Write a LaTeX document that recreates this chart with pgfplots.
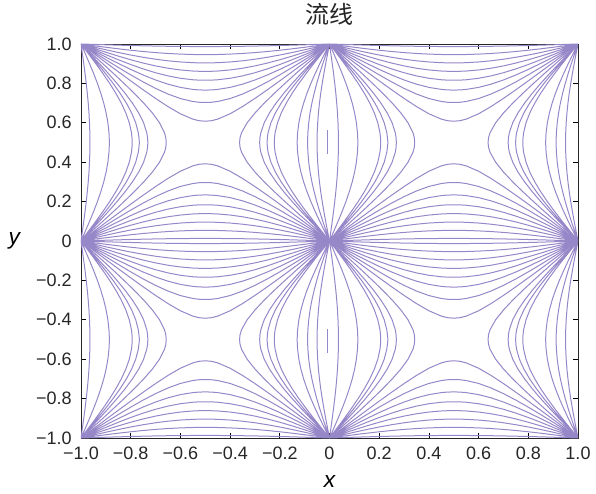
\documentclass[border=0pt]{standalone}
\usepackage{pgfplots}
\pgfplotsset{compat=1.18}
\usepackage{pgfplotstable}
\usepackage{fontspec}
\setmainfont{Liberation Sans}
\newfontfamily\cjk{Noto Sans CJK SC}
\definecolor{sl}{RGB}{150,135,200}
\pgfplotsset{sline/.style={color=sl, solid, line width=0.75pt, mark=none}}

% horizontal family: offset h from the cell edge, as a function of t across the cell
\pgfplotstableread[row sep=\\]{
t h\\
0 0\\ 0.025 0.0236\\ 0.05 0.0471\\ 0.1 0.0941\\ 0.15 0.1408\\ 0.2 0.1870\\ 0.25 0.2323\\ 0.3 0.2762\\ 0.35 0.3176\\ 0.4 0.3542\\ 0.45 0.3814\\ 0.475 0.3893\\ 0.5 0.392\\ 0.525 0.3893\\ 0.55 0.3814\\ 0.6 0.3542\\ 0.65 0.3176\\ 0.7 0.2762\\ 0.75 0.2323\\ 0.8 0.1870\\ 0.85 0.1408\\ 0.9 0.0941\\ 0.95 0.0471\\ 0.975 0.0236\\ 1 0\\ nan nan\\
0 0\\ 0.025 0.0201\\ 0.05 0.0401\\ 0.1 0.0799\\ 0.15 0.1189\\ 0.2 0.1566\\ 0.25 0.1924\\ 0.3 0.2253\\ 0.35 0.2540\\ 0.4 0.2769\\ 0.45 0.2918\\ 0.475 0.2957\\ 0.5 0.297\\ 0.525 0.2957\\ 0.55 0.2918\\ 0.6 0.2769\\ 0.65 0.2540\\ 0.7 0.2253\\ 0.75 0.1924\\ 0.8 0.1566\\ 0.85 0.1189\\ 0.9 0.0799\\ 0.95 0.0401\\ 0.975 0.0201\\ 1 0\\ nan nan\\
0 0\\ 0.025 0.0168\\ 0.05 0.0335\\ 0.1 0.0665\\ 0.15 0.0985\\ 0.2 0.1290\\ 0.25 0.1573\\ 0.3 0.1826\\ 0.35 0.2039\\ 0.4 0.2202\\ 0.45 0.2305\\ 0.475 0.2331\\ 0.5 0.234\\ 0.525 0.2331\\ 0.55 0.2305\\ 0.6 0.2202\\ 0.65 0.2039\\ 0.7 0.1826\\ 0.75 0.1573\\ 0.8 0.1290\\ 0.85 0.0985\\ 0.9 0.0665\\ 0.95 0.0335\\ 0.975 0.0168\\ 1 0\\ nan nan\\
0 0\\ 0.025 0.0137\\ 0.05 0.0272\\ 0.1 0.0540\\ 0.15 0.0798\\ 0.2 0.1041\\ 0.25 0.1263\\ 0.3 0.1458\\ 0.35 0.1619\\ 0.4 0.1740\\ 0.45 0.1815\\ 0.475 0.1834\\ 0.5 0.184\\ 0.525 0.1834\\ 0.55 0.1815\\ 0.6 0.1740\\ 0.65 0.1619\\ 0.7 0.1458\\ 0.75 0.1263\\ 0.8 0.1041\\ 0.85 0.0798\\ 0.9 0.0540\\ 0.95 0.0272\\ 0.975 0.0137\\ 1 0\\ nan nan\\
0 0\\ 0.025 0.0106\\ 0.05 0.0211\\ 0.1 0.0417\\ 0.15 0.0615\\ 0.2 0.0800\\ 0.25 0.0967\\ 0.3 0.1112\\ 0.35 0.1230\\ 0.4 0.1318\\ 0.45 0.1372\\ 0.475 0.1385\\ 0.5 0.139\\ 0.525 0.1385\\ 0.55 0.1372\\ 0.6 0.1318\\ 0.65 0.1230\\ 0.7 0.1112\\ 0.75 0.0967\\ 0.8 0.0800\\ 0.85 0.0615\\ 0.9 0.0417\\ 0.95 0.0211\\ 0.975 0.0106\\ 1 0\\ nan nan\\
0 0\\ 0.025 0.0074\\ 0.05 0.0148\\ 0.1 0.0293\\ 0.15 0.0431\\ 0.2 0.0559\\ 0.25 0.0674\\ 0.3 0.0773\\ 0.35 0.0853\\ 0.4 0.0912\\ 0.45 0.0948\\ 0.475 0.0957\\ 0.5 0.096\\ 0.525 0.0957\\ 0.55 0.0948\\ 0.6 0.0912\\ 0.65 0.0853\\ 0.7 0.0773\\ 0.75 0.0674\\ 0.8 0.0559\\ 0.85 0.0431\\ 0.9 0.0293\\ 0.95 0.0148\\ 0.975 0.0074\\ 1 0\\ nan nan\\
0 0\\ 0.025 0.0042\\ 0.05 0.0084\\ 0.1 0.0166\\ 0.15 0.0244\\ 0.2 0.0316\\ 0.25 0.0381\\ 0.3 0.0436\\ 0.35 0.0481\\ 0.4 0.0513\\ 0.45 0.0533\\ 0.475 0.0538\\ 0.5 0.054\\ 0.525 0.0538\\ 0.55 0.0533\\ 0.6 0.0513\\ 0.65 0.0481\\ 0.7 0.0436\\ 0.75 0.0381\\ 0.8 0.0316\\ 0.85 0.0244\\ 0.9 0.0166\\ 0.95 0.0084\\ 0.975 0.0042\\ 1 0\\ nan nan\\
0 0\\ 0.05 0.0020\\ 0.1 0.0040\\ 0.15 0.0059\\ 0.2 0.0076\\ 0.25 0.0092\\ 0.3 0.0105\\ 0.35 0.0116\\ 0.4 0.0124\\ 0.45 0.0128\\ 0.5 0.013\\ 0.55 0.0128\\ 0.6 0.0124\\ 0.65 0.0116\\ 0.7 0.0105\\ 0.75 0.0092\\ 0.8 0.0076\\ 0.85 0.0059\\ 0.9 0.0040\\ 0.95 0.0020\\ 1 0\\
}\Htab

% vertical family near the left edge of each cell: offset v as a function of t up the cell
\pgfplotstableread[row sep=\\]{
t v\\
0 0\\ 0.025 0.0220\\ 0.05 0.0440\\ 0.1 0.0878\\ 0.15 0.1310\\ 0.2 0.1732\\ 0.25 0.2140\\ 0.3 0.2525\\ 0.35 0.2872\\ 0.4 0.3161\\ 0.45 0.3359\\ 0.475 0.3412\\ 0.5 0.343\\ 0.525 0.3412\\ 0.55 0.3359\\ 0.6 0.3161\\ 0.65 0.2872\\ 0.7 0.2525\\ 0.75 0.2140\\ 0.8 0.1732\\ 0.85 0.1310\\ 0.9 0.0878\\ 0.95 0.0440\\ 0.975 0.0220\\ 1 0\\ nan nan\\
0 0\\ 0.025 0.0187\\ 0.05 0.0373\\ 0.1 0.0743\\ 0.15 0.1103\\ 0.2 0.1449\\ 0.25 0.1774\\ 0.3 0.2069\\ 0.35 0.2322\\ 0.4 0.2519\\ 0.45 0.2646\\ 0.475 0.2679\\ 0.5 0.269\\ 0.525 0.2679\\ 0.55 0.2646\\ 0.6 0.2519\\ 0.65 0.2322\\ 0.7 0.2069\\ 0.75 0.1774\\ 0.8 0.1449\\ 0.85 0.1103\\ 0.9 0.0743\\ 0.95 0.0373\\ 0.975 0.0187\\ 1 0\\ nan nan\\
0 0\\ 0.025 0.0168\\ 0.05 0.0335\\ 0.1 0.0665\\ 0.15 0.0985\\ 0.2 0.1290\\ 0.25 0.1573\\ 0.3 0.1826\\ 0.35 0.2039\\ 0.4 0.2202\\ 0.45 0.2305\\ 0.475 0.2331\\ 0.5 0.235\\ 0.525 0.2331\\ 0.55 0.2305\\ 0.6 0.2202\\ 0.65 0.2039\\ 0.7 0.1826\\ 0.75 0.1573\\ 0.8 0.1290\\ 0.85 0.0985\\ 0.9 0.0665\\ 0.95 0.0335\\ 0.975 0.0168\\ 1 0\\ nan nan\\
0 0\\ 0.025 0.0151\\ 0.05 0.0301\\ 0.1 0.0597\\ 0.15 0.0883\\ 0.2 0.1153\\ 0.25 0.1402\\ 0.3 0.1622\\ 0.35 0.1805\\ 0.4 0.1944\\ 0.45 0.2030\\ 0.475 0.2052\\ 0.5 0.206\\ 0.525 0.2052\\ 0.55 0.2030\\ 0.6 0.1944\\ 0.65 0.1805\\ 0.7 0.1622\\ 0.75 0.1402\\ 0.8 0.1153\\ 0.85 0.0883\\ 0.9 0.0597\\ 0.95 0.0301\\ 0.975 0.0151\\ 1 0\\ nan nan\\
0 0\\ 0.025 0.0088\\ 0.05 0.0175\\ 0.1 0.0345\\ 0.15 0.0509\\ 0.2 0.0661\\ 0.25 0.0797\\ 0.3 0.0915\\ 0.35 0.1011\\ 0.4 0.1082\\ 0.45 0.1125\\ 0.475 0.1136\\ 0.5 0.114\\ 0.525 0.1136\\ 0.55 0.1125\\ 0.6 0.1082\\ 0.65 0.1011\\ 0.7 0.0915\\ 0.75 0.0797\\ 0.8 0.0661\\ 0.85 0.0509\\ 0.9 0.0345\\ 0.95 0.0175\\ 0.975 0.0088\\ 1 0\\ nan nan\\
0 0\\ 0.05 0.0056\\ 0.1 0.0111\\ 0.15 0.0163\\ 0.2 0.0211\\ 0.25 0.0254\\ 0.3 0.0291\\ 0.35 0.0321\\ 0.4 0.0342\\ 0.45 0.0356\\ 0.5 0.036\\ 0.55 0.0356\\ 0.6 0.0342\\ 0.65 0.0321\\ 0.7 0.0291\\ 0.75 0.0254\\ 0.8 0.0211\\ 0.85 0.0163\\ 0.9 0.0111\\ 0.95 0.0056\\ 1 0\\
}\VLtab

% vertical family near the right edge of each cell
\pgfplotstableread[row sep=\\]{
t v\\
0 0\\ 0.025 0.0227\\ 0.05 0.0453\\ 0.1 0.0905\\ 0.15 0.1352\\ 0.2 0.1791\\ 0.25 0.2218\\ 0.3 0.2625\\ 0.35 0.2998\\ 0.4 0.3315\\ 0.45 0.3538\\ 0.475 0.3599\\ 0.5 0.362\\ 0.525 0.3599\\ 0.55 0.3538\\ 0.6 0.3315\\ 0.65 0.2998\\ 0.7 0.2625\\ 0.75 0.2218\\ 0.8 0.1791\\ 0.85 0.1352\\ 0.9 0.0905\\ 0.95 0.0453\\ 0.975 0.0227\\ 1 0\\ nan nan\\
0 0\\ 0.025 0.0193\\ 0.05 0.0386\\ 0.1 0.0767\\ 0.15 0.1141\\ 0.2 0.1500\\ 0.25 0.1839\\ 0.3 0.2149\\ 0.35 0.2417\\ 0.4 0.2627\\ 0.45 0.2763\\ 0.475 0.2798\\ 0.5 0.281\\ 0.525 0.2798\\ 0.55 0.2763\\ 0.6 0.2627\\ 0.65 0.2417\\ 0.7 0.2149\\ 0.75 0.1839\\ 0.8 0.1500\\ 0.85 0.1141\\ 0.9 0.0767\\ 0.95 0.0386\\ 0.975 0.0193\\ 1 0\\ nan nan\\
0 0\\ 0.025 0.0177\\ 0.05 0.0354\\ 0.1 0.0703\\ 0.15 0.1044\\ 0.2 0.1369\\ 0.25 0.1672\\ 0.3 0.1945\\ 0.35 0.2178\\ 0.4 0.2357\\ 0.45 0.2471\\ 0.475 0.2500\\ 0.5 0.251\\ 0.525 0.2500\\ 0.55 0.2471\\ 0.6 0.2357\\ 0.65 0.2178\\ 0.7 0.1945\\ 0.75 0.1672\\ 0.8 0.1369\\ 0.85 0.1044\\ 0.9 0.0703\\ 0.95 0.0354\\ 0.975 0.0177\\ 1 0\\ nan nan\\
0 0\\ 0.025 0.0161\\ 0.05 0.0320\\ 0.1 0.0636\\ 0.15 0.0942\\ 0.2 0.1232\\ 0.25 0.1501\\ 0.3 0.1739\\ 0.35 0.1940\\ 0.4 0.2092\\ 0.45 0.2188\\ 0.475 0.2212\\ 0.5 0.222\\ 0.525 0.2212\\ 0.55 0.2188\\ 0.6 0.2092\\ 0.65 0.1940\\ 0.7 0.1739\\ 0.75 0.1501\\ 0.8 0.1232\\ 0.85 0.0942\\ 0.9 0.0636\\ 0.95 0.0320\\ 0.975 0.0161\\ 1 0\\ nan nan\\
0 0\\ 0.025 0.0099\\ 0.05 0.0198\\ 0.1 0.0392\\ 0.15 0.0577\\ 0.2 0.0750\\ 0.25 0.0906\\ 0.3 0.1041\\ 0.35 0.1151\\ 0.4 0.1233\\ 0.45 0.1283\\ 0.475 0.1296\\ 0.5 0.130\\ 0.525 0.1296\\ 0.55 0.1283\\ 0.6 0.1233\\ 0.65 0.1151\\ 0.7 0.1041\\ 0.75 0.0906\\ 0.8 0.0750\\ 0.85 0.0577\\ 0.9 0.0392\\ 0.95 0.0198\\ 0.975 0.0099\\ 1 0\\ nan nan\\
0 0\\ 0.025 0.0068\\ 0.05 0.0136\\ 0.1 0.0269\\ 0.15 0.0396\\ 0.2 0.0513\\ 0.25 0.0618\\ 0.3 0.0709\\ 0.35 0.0782\\ 0.4 0.0836\\ 0.45 0.0869\\ 0.475 0.0877\\ 0.5 0.088\\ 0.525 0.0877\\ 0.55 0.0869\\ 0.6 0.0836\\ 0.65 0.0782\\ 0.7 0.0709\\ 0.75 0.0618\\ 0.8 0.0513\\ 0.85 0.0396\\ 0.9 0.0269\\ 0.95 0.0136\\ 0.975 0.0068\\ 1 0\\ nan nan\\
0 0\\ 0.025 0.0040\\ 0.05 0.0078\\ 0.1 0.0154\\ 0.15 0.0226\\ 0.2 0.0293\\ 0.25 0.0353\\ 0.3 0.0404\\ 0.35 0.0445\\ 0.4 0.0475\\ 0.45 0.0494\\ 0.475 0.0498\\ 0.5 0.050\\ 0.525 0.0498\\ 0.55 0.0494\\ 0.6 0.0475\\ 0.65 0.0445\\ 0.7 0.0404\\ 0.75 0.0353\\ 0.8 0.0293\\ 0.85 0.0226\\ 0.9 0.0154\\ 0.95 0.0078\\ 0.975 0.0040\\ 1 0\\
}\VRtab

\begin{document}
\begin{tikzpicture}
\useasboundingbox (-60.75pt,-41.25pt) rectangle (386.25pt,328.5pt);
\begin{axis}[
  at={(0,0)}, anchor=south west,
  scale only axis, width=372.75pt, height=295.5pt,
  xmin=-1, xmax=1, ymin=-1, ymax=1,
  xtick={-1,-0.8,-0.6,-0.4,-0.2,0,0.2,0.4,0.6,0.8,1},
  xticklabels={−1.0,−0.8,−0.6,−0.4,−0.2,0,0.2,0.4,0.6,0.8,1.0},
  ytick={-1,-0.8,-0.6,-0.4,-0.2,0,0.2,0.4,0.6,0.8,1},
  yticklabels={−1.0,−0.8,−0.6,−0.4,−0.2,0,0.2,0.4,0.6,0.8,1.0},
  tick label style={font=\fontsize{13.5}{15}\selectfont, text=black!85},
  yticklabel style={xshift=-3.5pt},
  xticklabel style={yshift=-3.5pt},
  major tick length=3.8pt,
  tick style={black, line width=0.6pt},
  axis line style={black!85, line width=0.7pt},
  unbounded coords=jump,
  title={\cjk 流线},
  title style={at={(axis description cs:0.5,1)}, anchor=center, yshift=16.5pt, font=\fontsize{18}{20}\selectfont, text=black!85},
  xlabel={\itshape x},
  ylabel={\itshape y},
  xlabel style={at={(axis description cs:0.5,0)}, anchor=center, yshift=-33pt, font=\fontsize{17}{19}\selectfont},
  ylabel style={at={(axis description cs:0,0.5)}, anchor=center, rotate=-90, xshift=-50pt, font=\fontsize{17}{19}\selectfont},
]
% horizontal families
\addplot[sline] table[x expr=\thisrow{t}-1, y expr=\thisrow{h}] {\Htab};
\addplot[sline] table[x expr=\thisrow{t}, y expr=\thisrow{h}] {\Htab};
\addplot[sline] table[x expr=\thisrow{t}-1, y expr=1-\thisrow{h}] {\Htab};
\addplot[sline] table[x expr=\thisrow{t}, y expr=1-\thisrow{h}] {\Htab};
\addplot[sline] table[x expr=\thisrow{t}-1, y expr=-\thisrow{h}] {\Htab};
\addplot[sline] table[x expr=\thisrow{t}, y expr=-\thisrow{h}] {\Htab};
\addplot[sline] table[x expr=\thisrow{t}-1, y expr=\thisrow{h}-1] {\Htab};
\addplot[sline] table[x expr=\thisrow{t}, y expr=\thisrow{h}-1] {\Htab};
% vertical families, left side of each cell
\addplot[sline] table[x expr=\thisrow{v}-1, y expr=\thisrow{t}] {\VLtab};
\addplot[sline] table[x expr=\thisrow{v}, y expr=\thisrow{t}] {\VLtab};
\addplot[sline] table[x expr=\thisrow{v}-1, y expr=\thisrow{t}-1] {\VLtab};
\addplot[sline] table[x expr=\thisrow{v}, y expr=\thisrow{t}-1] {\VLtab};
% vertical families, right side of each cell
\addplot[sline] table[x expr=-\thisrow{v}, y expr=\thisrow{t}] {\VRtab};
\addplot[sline] table[x expr=1-\thisrow{v}, y expr=\thisrow{t}] {\VRtab};
\addplot[sline] table[x expr=-\thisrow{v}, y expr=\thisrow{t}-1] {\VRtab};
\addplot[sline] table[x expr=1-\thisrow{v}, y expr=\thisrow{t}-1] {\VRtab};
% short segments
\addplot[sline] coordinates {(-0.008,0.444) (-0.008,0.562)};
\addplot[sline] coordinates {(-0.008,-0.566) (-0.008,-0.447)};
\end{axis}
\end{tikzpicture}
\end{document}
